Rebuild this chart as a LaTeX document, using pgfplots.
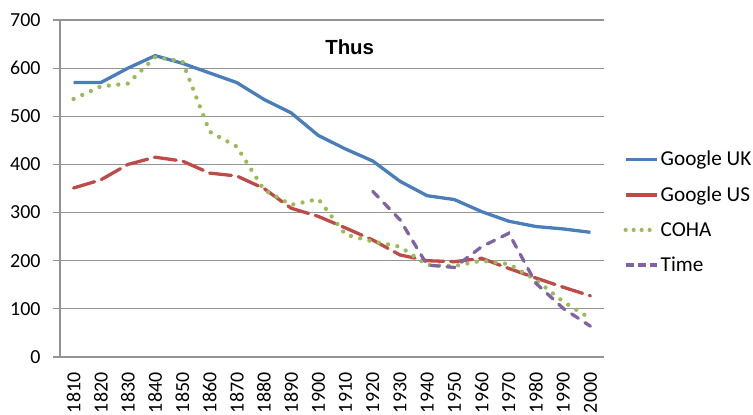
\documentclass[border=0pt]{standalone}
\usepackage{pgfplots}
\pgfplotsset{compat=1.18}
\usepackage{fontspec}
\setmainfont{Carlito}
\newfontfamily\arialfont{Liberation Sans}
\definecolor{gblue}{HTML}{4A7EBB}
\definecolor{gred}{HTML}{BE4B48}
\definecolor{ggreen}{HTML}{9BBB59}
\definecolor{gpurple}{HTML}{8064A2}
\definecolor{ggrid}{HTML}{949494}
\begin{document}
\begin{tikzpicture}
\path[use as bounding box] (-60bp,-58bp) rectangle (693bp,357bp);
\begin{axis}[
  at={(0,0)}, anchor=south west,
  scale only axis, width=544bp, height=337bp,
  xmin=1805, xmax=2005, ymin=0, ymax=700,
  axis x line*=bottom, axis y line*=left,
  axis line style={ggrid, line width=1.1bp, -},
  ytick={0,100,...,700},
  xtick={1810,1820,...,2000},
  minor xtick={1805,1815,...,2005},
  x tick style={draw=none},
  minor x tick style={ggrid, line width=1.1bp},
  y tick style={ggrid, line width=1.1bp},
  tick align=outside,
  major tick length=7bp, minor tick length=7bp,
  ymajorgrids, grid style={ggrid, line width=1.1bp},
  /pgf/number format/assume math mode=true,
  /pgf/number format/1000 sep={},
  tick label style={font=\fontsize{20}{24}\selectfont, black},
  yticklabel style={xshift=-9bp},
  xticklabel style={rotate=90, anchor=east, inner xsep=8.5bp},
  legend style={at={(1.03,0.43)}, anchor=west, draw=none, fill=none,
    font=\fontsize{21.3}{24}\selectfont, row sep=15.3bp,
    /tikz/every even column/.append style={column sep=0bp}},
  legend cell align=left,
  legend image code/.code={\draw[#1] (0bp,0bp) -- (31bp,0bp);},
]
\addlegendimage{gblue, line width=3.3bp}
\addlegendentry{Google UK}
\addlegendimage{gred, line width=3.3bp}
\addlegendentry{Google US}
\addlegendimage{ggreen, line width=4.2bp, line cap=round, dash pattern=on 0bp off 8bp}
\addlegendentry{COHA}
\addlegendimage{gpurple, line width=3.3bp, dash pattern=on 8bp off 4bp}
\addlegendentry{Time}
\addplot[gblue, line width=3.3bp, forget plot] coordinates {
(1810,570) (1820,570) (1830,600) (1840,626) (1850,610) (1860,590) (1870,570)
(1880,535) (1890,507) (1900,460) (1910,432) (1920,407) (1930,365) (1940,335)
(1950,327) (1960,302) (1970,282) (1980,271) (1990,266) (2000,259)};
\addplot[gred, line width=3.3bp, line cap=round, dash pattern=on 22bp off 7bp, forget plot] coordinates {
(1810,351) (1820,368) (1830,400) (1840,415) (1850,407) (1860,382) (1870,376)
(1880,350) (1890,309) (1900,292) (1910,268) (1920,243) (1930,212) (1940,200)
(1950,198) (1960,205) (1970,184) (1980,164) (1990,145) (2000,127)};
\addplot[ggreen, line width=4.3bp, line cap=round, dash pattern=on 0bp off 9.5bp, forget plot] coordinates {
(1810,536) (1820,562) (1830,568) (1840,623) (1850,614) (1860,468) (1870,437)
(1880,347) (1890,316) (1900,328) (1910,254) (1920,240) (1930,229) (1940,191)
(1950,189) (1960,200) (1970,193) (1980,160) (1990,115) (2000,80)};
\addplot[gpurple, line width=3.3bp, line cap=round, dash pattern=on 8bp off 8bp, forget plot] coordinates {
(1920,344) (1930,285) (1940,191) (1950,186) (1960,229) (1970,257) (1980,153)
(1990,101) (2000,64)};
\node[font=\arialfont\bfseries\fontsize{20.5}{24}\selectfont] at (axis cs:1911.5,644) {Thus};
\end{axis}
\end{tikzpicture}
\end{document}
